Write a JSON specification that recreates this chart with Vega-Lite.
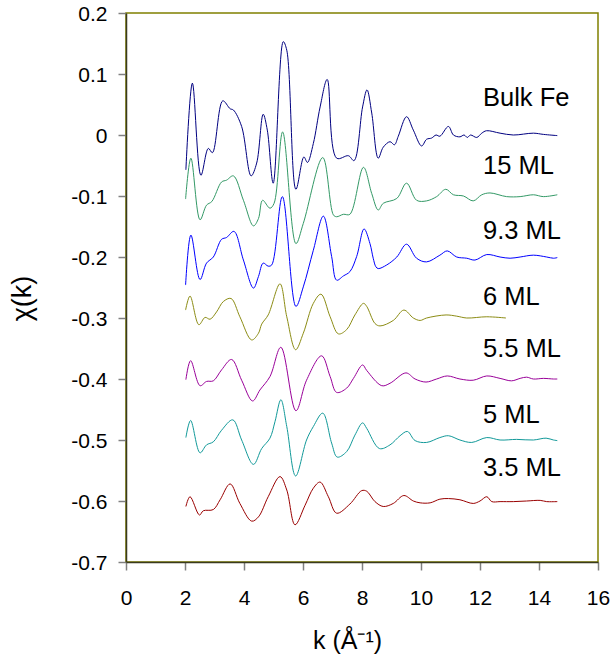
{
"$schema": "https://vega.github.io/schema/vega-lite/v6.json",
"width": 472, "height": 549, "autosize": "none",
"padding": {"left": 126, "top": 13, "right": 13, "bottom": 96},
"background": "white",
"config": {"view": {"stroke": "#808000", "strokeWidth": 1.5}, "font": "Liberation Sans"},
"datasets": {
"curves": [
{"series":"Bulk Fe","k":2.03,"chi":-0.057},{"series":"Bulk Fe","k":2.25,"chi":0.085},{"series":"Bulk Fe","k":2.54,"chi":-0.066},{"series":"Bulk Fe","k":2.79,"chi":-0.022},{"series":"Bulk Fe","k":2.93,"chi":-0.029},{"series":"Bulk Fe","k":3.28,"chi":0.056},{"series":"Bulk Fe","k":3.53,"chi":0.043},{"series":"Bulk Fe","k":3.64,"chi":0.041},{"series":"Bulk Fe","k":3.92,"chi":0.014},{"series":"Bulk Fe","k":4.24,"chi":-0.067},{"series":"Bulk Fe","k":4.43,"chi":-0.046},{"series":"Bulk Fe","k":4.65,"chi":0.034},{"series":"Bulk Fe","k":4.79,"chi":0.008},{"series":"Bulk Fe","k":4.99,"chi":-0.079},{"series":"Bulk Fe","k":5.33,"chi":0.153},{"series":"Bulk Fe","k":5.45,"chi":0.139},{"series":"Bulk Fe","k":5.76,"chi":-0.089},{"series":"Bulk Fe","k":6.03,"chi":-0.036},{"series":"Bulk Fe","k":6.15,"chi":-0.045},{"series":"Bulk Fe","k":6.35,"chi":-0.014},{"series":"Bulk Fe","k":6.58,"chi":0.046},{"series":"Bulk Fe","k":6.82,"chi":0.091},{"series":"Bulk Fe","k":7.14,"chi":-0.038},{"series":"Bulk Fe","k":7.54,"chi":-0.034},{"series":"Bulk Fe","k":7.73,"chi":-0.042},{"series":"Bulk Fe","k":8.02,"chi":0.046},{"series":"Bulk Fe","k":8.17,"chi":0.074},{"series":"Bulk Fe","k":8.33,"chi":0.036},{"series":"Bulk Fe","k":8.55,"chi":-0.038},{"series":"Bulk Fe","k":8.72,"chi":-0.020},{"series":"Bulk Fe","k":8.95,"chi":-0.011},{"series":"Bulk Fe","k":9.10,"chi":-0.016},{"series":"Bulk Fe","k":9.23,"chi":-0.002},{"series":"Bulk Fe","k":9.51,"chi":0.030},{"series":"Bulk Fe","k":9.74,"chi":0.008},{"series":"Bulk Fe","k":10.02,"chi":-0.018},{"series":"Bulk Fe","k":10.19,"chi":-0.007},{"series":"Bulk Fe","k":10.36,"chi":-0.005},{"series":"Bulk Fe","k":10.51,"chi":0.000},{"series":"Bulk Fe","k":10.64,"chi":-0.002},{"series":"Bulk Fe","k":10.93,"chi":0.014},{"series":"Bulk Fe","k":11.10,"chi":0.000},{"series":"Bulk Fe","k":11.32,"chi":-0.003},{"series":"Bulk Fe","k":11.46,"chi":0.000},{"series":"Bulk Fe","k":11.57,"chi":-0.004},{"series":"Bulk Fe","k":11.68,"chi":0.000},{"series":"Bulk Fe","k":11.89,"chi":-0.004},{"series":"Bulk Fe","k":12.06,"chi":0.003},{"series":"Bulk Fe","k":12.22,"chi":0.007},{"series":"Bulk Fe","k":12.68,"chi":0.003},{"series":"Bulk Fe","k":13.13,"chi":0.000},{"series":"Bulk Fe","k":13.81,"chi":0.003},{"series":"Bulk Fe","k":14.15,"chi":0.001},{"series":"Bulk Fe","k":14.62,"chi":-0.001},
{"series":"15 ML","k":2.02,"chi":-0.105},{"series":"15 ML","k":2.20,"chi":-0.038},{"series":"15 ML","k":2.51,"chi":-0.139},{"series":"15 ML","k":2.73,"chi":-0.115},{"series":"15 ML","k":2.91,"chi":-0.109},{"series":"15 ML","k":3.24,"chi":-0.077},{"series":"15 ML","k":3.41,"chi":-0.074},{"series":"15 ML","k":3.64,"chi":-0.067},{"series":"15 ML","k":3.98,"chi":-0.107},{"series":"15 ML","k":4.32,"chi":-0.149},{"series":"15 ML","k":4.49,"chi":-0.137},{"series":"15 ML","k":4.63,"chi":-0.107},{"series":"15 ML","k":4.88,"chi":-0.120},{"series":"15 ML","k":5.02,"chi":-0.112},{"series":"15 ML","k":5.31,"chi":0.005},{"series":"15 ML","k":5.76,"chi":-0.178},{"series":"15 ML","k":6.01,"chi":-0.145},{"series":"15 ML","k":6.67,"chi":-0.037},{"series":"15 ML","k":7.03,"chi":-0.131},{"series":"15 ML","k":7.14,"chi":-0.134},{"series":"15 ML","k":7.37,"chi":-0.130},{"series":"15 ML","k":7.59,"chi":-0.130},{"series":"15 ML","k":8.05,"chi":-0.053},{"series":"15 ML","k":8.33,"chi":-0.096},{"series":"15 ML","k":8.55,"chi":-0.123},{"series":"15 ML","k":8.72,"chi":-0.112},{"series":"15 ML","k":9.18,"chi":-0.104},{"series":"15 ML","k":9.51,"chi":-0.079},{"series":"15 ML","k":9.85,"chi":-0.107},{"series":"15 ML","k":10.19,"chi":-0.108},{"series":"15 ML","k":10.53,"chi":-0.101},{"series":"15 ML","k":10.84,"chi":-0.089},{"series":"15 ML","k":11.10,"chi":-0.098},{"series":"15 ML","k":11.44,"chi":-0.100},{"series":"15 ML","k":11.77,"chi":-0.108},{"series":"15 ML","k":12.06,"chi":-0.098},{"series":"15 ML","k":12.34,"chi":-0.095},{"series":"15 ML","k":12.90,"chi":-0.101},{"series":"15 ML","k":13.36,"chi":-0.101},{"series":"15 ML","k":13.81,"chi":-0.098},{"series":"15 ML","k":14.15,"chi":-0.101},{"series":"15 ML","k":14.62,"chi":-0.098},
{"series":"9.3 ML","k":2.02,"chi":-0.246},{"series":"9.3 ML","k":2.20,"chi":-0.164},{"series":"9.3 ML","k":2.51,"chi":-0.237},{"series":"9.3 ML","k":2.73,"chi":-0.210},{"series":"9.3 ML","k":2.96,"chi":-0.200},{"series":"9.3 ML","k":3.24,"chi":-0.171},{"series":"9.3 ML","k":3.41,"chi":-0.168},{"series":"9.3 ML","k":3.66,"chi":-0.158},{"series":"9.3 ML","k":3.98,"chi":-0.205},{"series":"9.3 ML","k":4.32,"chi":-0.251},{"series":"9.3 ML","k":4.49,"chi":-0.232},{"series":"9.3 ML","k":4.65,"chi":-0.210},{"series":"9.3 ML","k":4.82,"chi":-0.215},{"series":"9.3 ML","k":4.94,"chi":-0.213},{"series":"9.3 ML","k":5.30,"chi":-0.101},{"series":"9.3 ML","k":5.76,"chi":-0.281},{"series":"9.3 ML","k":6.01,"chi":-0.249},{"series":"9.3 ML","k":6.35,"chi":-0.189},{"series":"9.3 ML","k":6.69,"chi":-0.133},{"series":"9.3 ML","k":6.97,"chi":-0.199},{"series":"9.3 ML","k":7.14,"chi":-0.238},{"series":"9.3 ML","k":7.37,"chi":-0.231},{"series":"9.3 ML","k":7.59,"chi":-0.224},{"series":"9.3 ML","k":7.82,"chi":-0.199},{"series":"9.3 ML","k":8.07,"chi":-0.154},{"series":"9.3 ML","k":8.27,"chi":-0.178},{"series":"9.3 ML","k":8.38,"chi":-0.202},{"series":"9.3 ML","k":8.47,"chi":-0.216},{"series":"9.3 ML","k":8.55,"chi":-0.219},{"series":"9.3 ML","k":8.84,"chi":-0.213},{"series":"9.3 ML","k":9.18,"chi":-0.200},{"series":"9.3 ML","k":9.51,"chi":-0.179},{"series":"9.3 ML","k":9.85,"chi":-0.202},{"series":"9.3 ML","k":10.19,"chi":-0.208},{"series":"9.3 ML","k":10.64,"chi":-0.197},{"series":"9.3 ML","k":10.89,"chi":-0.190},{"series":"9.3 ML","k":11.21,"chi":-0.200},{"series":"9.3 ML","k":11.55,"chi":-0.202},{"series":"9.3 ML","k":11.83,"chi":-0.205},{"series":"9.3 ML","k":12.23,"chi":-0.196},{"series":"9.3 ML","k":12.68,"chi":-0.200},{"series":"9.3 ML","k":13.02,"chi":-0.202},{"series":"9.3 ML","k":13.36,"chi":-0.200},{"series":"9.3 ML","k":13.81,"chi":-0.197},{"series":"9.3 ML","k":14.26,"chi":-0.200},{"series":"9.3 ML","k":14.49,"chi":-0.202},{"series":"9.3 ML","k":14.62,"chi":-0.201},
{"series":"6 ML","k":2.02,"chi":-0.287},{"series":"6 ML","k":2.17,"chi":-0.264},{"series":"6 ML","k":2.47,"chi":-0.311},{"series":"6 ML","k":2.68,"chi":-0.299},{"series":"6 ML","k":2.85,"chi":-0.302},{"series":"6 ML","k":3.07,"chi":-0.290},{"series":"6 ML","k":3.30,"chi":-0.273},{"series":"6 ML","k":3.56,"chi":-0.268},{"series":"6 ML","k":3.86,"chi":-0.298},{"series":"6 ML","k":4.26,"chi":-0.336},{"series":"6 ML","k":4.49,"chi":-0.325},{"series":"6 ML","k":4.60,"chi":-0.310},{"series":"6 ML","k":4.82,"chi":-0.295},{"series":"6 ML","k":5.22,"chi":-0.244},{"series":"6 ML","k":5.45,"chi":-0.298},{"series":"6 ML","k":5.75,"chi":-0.352},{"series":"6 ML","k":6.01,"chi":-0.325},{"series":"6 ML","k":6.35,"chi":-0.276},{"series":"6 ML","k":6.61,"chi":-0.261},{"series":"6 ML","k":6.92,"chi":-0.298},{"series":"6 ML","k":7.20,"chi":-0.326},{"series":"6 ML","k":7.48,"chi":-0.319},{"series":"6 ML","k":7.76,"chi":-0.295},{"series":"6 ML","k":8.05,"chi":-0.276},{"series":"6 ML","k":8.16,"chi":-0.281},{"series":"6 ML","k":8.44,"chi":-0.309},{"series":"6 ML","k":8.61,"chi":-0.313},{"series":"6 ML","k":9.06,"chi":-0.304},{"series":"6 ML","k":9.42,"chi":-0.287},{"series":"6 ML","k":9.74,"chi":-0.300},{"series":"6 ML","k":9.97,"chi":-0.304},{"series":"6 ML","k":10.19,"chi":-0.300},{"series":"6 ML","k":10.85,"chi":-0.295},{"series":"6 ML","k":11.21,"chi":-0.297},{"series":"6 ML","k":11.55,"chi":-0.300},{"series":"6 ML","k":12.23,"chi":-0.298},{"series":"6 ML","k":12.88,"chi":-0.300},
{"series":"5.5 ML","k":2.03,"chi":-0.401},{"series":"5.5 ML","k":2.19,"chi":-0.370},{"series":"5.5 ML","k":2.51,"chi":-0.411},{"series":"5.5 ML","k":2.73,"chi":-0.404},{"series":"5.5 ML","k":2.96,"chi":-0.403},{"series":"5.5 ML","k":3.24,"chi":-0.385},{"series":"5.5 ML","k":3.58,"chi":-0.368},{"series":"5.5 ML","k":3.92,"chi":-0.402},{"series":"5.5 ML","k":4.29,"chi":-0.436},{"series":"5.5 ML","k":4.54,"chi":-0.418},{"series":"5.5 ML","k":4.88,"chi":-0.396},{"series":"5.5 ML","k":5.25,"chi":-0.348},{"series":"5.5 ML","k":5.76,"chi":-0.452},{"series":"5.5 ML","k":6.12,"chi":-0.402},{"series":"5.5 ML","k":6.63,"chi":-0.362},{"series":"5.5 ML","k":6.92,"chi":-0.396},{"series":"5.5 ML","k":7.14,"chi":-0.422},{"series":"5.5 ML","k":7.48,"chi":-0.415},{"series":"5.5 ML","k":7.71,"chi":-0.399},{"series":"5.5 ML","k":8.02,"chi":-0.377},{"series":"5.5 ML","k":8.16,"chi":-0.386},{"series":"5.5 ML","k":8.67,"chi":-0.411},{"series":"5.5 ML","k":8.95,"chi":-0.407},{"series":"5.5 ML","k":9.49,"chi":-0.390},{"series":"5.5 ML","k":9.80,"chi":-0.400},{"series":"5.5 ML","k":10.17,"chi":-0.405},{"series":"5.5 ML","k":10.53,"chi":-0.400},{"series":"5.5 ML","k":10.89,"chi":-0.395},{"series":"5.5 ML","k":11.32,"chi":-0.400},{"series":"5.5 ML","k":11.77,"chi":-0.402},{"series":"5.5 ML","k":12.23,"chi":-0.395},{"series":"5.5 ML","k":12.68,"chi":-0.399},{"series":"5.5 ML","k":13.07,"chi":-0.403},{"series":"5.5 ML","k":13.36,"chi":-0.399},{"series":"5.5 ML","k":13.58,"chi":-0.397},{"series":"5.5 ML","k":13.81,"chi":-0.400},{"series":"5.5 ML","k":14.15,"chi":-0.399},{"series":"5.5 ML","k":14.49,"chi":-0.400},{"series":"5.5 ML","k":14.62,"chi":-0.400},
{"series":"5 ML","k":2.03,"chi":-0.496},{"series":"5 ML","k":2.19,"chi":-0.468},{"series":"5 ML","k":2.51,"chi":-0.521},{"series":"5 ML","k":2.73,"chi":-0.508},{"series":"5 ML","k":2.96,"chi":-0.503},{"series":"5 ML","k":3.24,"chi":-0.484},{"series":"5 ML","k":3.62,"chi":-0.467},{"series":"5 ML","k":3.92,"chi":-0.500},{"series":"5 ML","k":4.32,"chi":-0.540},{"series":"5 ML","k":4.60,"chi":-0.514},{"series":"5 ML","k":4.88,"chi":-0.497},{"series":"5 ML","k":5.05,"chi":-0.470},{"series":"5 ML","k":5.25,"chi":-0.434},{"series":"5 ML","k":5.45,"chi":-0.478},{"series":"5 ML","k":5.75,"chi":-0.559},{"series":"5 ML","k":6.12,"chi":-0.500},{"series":"5 ML","k":6.35,"chi":-0.478},{"series":"5 ML","k":6.67,"chi":-0.456},{"series":"5 ML","k":6.97,"chi":-0.505},{"series":"5 ML","k":7.16,"chi":-0.528},{"series":"5 ML","k":7.48,"chi":-0.519},{"series":"5 ML","k":7.76,"chi":-0.492},{"series":"5 ML","k":8.02,"chi":-0.472},{"series":"5 ML","k":8.16,"chi":-0.481},{"series":"5 ML","k":8.59,"chi":-0.514},{"series":"5 ML","k":8.95,"chi":-0.508},{"series":"5 ML","k":9.29,"chi":-0.493},{"series":"5 ML","k":9.54,"chi":-0.486},{"series":"5 ML","k":9.80,"chi":-0.501},{"series":"5 ML","k":10.19,"chi":-0.504},{"series":"5 ML","k":10.64,"chi":-0.496},{"series":"5 ML","k":10.93,"chi":-0.493},{"series":"5 ML","k":11.32,"chi":-0.500},{"series":"5 ML","k":11.72,"chi":-0.504},{"series":"5 ML","k":12.23,"chi":-0.496},{"series":"5 ML","k":12.68,"chi":-0.500},{"series":"5 ML","k":13.24,"chi":-0.499},{"series":"5 ML","k":13.81,"chi":-0.500},{"series":"5 ML","k":14.24,"chi":-0.497},{"series":"5 ML","k":14.49,"chi":-0.500},{"series":"5 ML","k":14.62,"chi":-0.501},
{"series":"3.5 ML","k":2.03,"chi":-0.609},{"series":"3.5 ML","k":2.17,"chi":-0.593},{"series":"3.5 ML","k":2.49,"chi":-0.623},{"series":"3.5 ML","k":2.62,"chi":-0.616},{"series":"3.5 ML","k":2.96,"chi":-0.614},{"series":"3.5 ML","k":3.19,"chi":-0.598},{"series":"3.5 ML","k":3.53,"chi":-0.572},{"series":"3.5 ML","k":3.86,"chi":-0.604},{"series":"3.5 ML","k":4.26,"chi":-0.633},{"series":"3.5 ML","k":4.49,"chi":-0.626},{"series":"3.5 ML","k":4.82,"chi":-0.593},{"series":"3.5 ML","k":5.22,"chi":-0.560},{"series":"3.5 ML","k":5.45,"chi":-0.582},{"series":"3.5 ML","k":5.73,"chi":-0.639},{"series":"3.5 ML","k":6.07,"chi":-0.607},{"series":"3.5 ML","k":6.35,"chi":-0.579},{"series":"3.5 ML","k":6.58,"chi":-0.569},{"series":"3.5 ML","k":6.86,"chi":-0.593},{"series":"3.5 ML","k":7.14,"chi":-0.620},{"series":"3.5 ML","k":7.59,"chi":-0.605},{"series":"3.5 ML","k":7.99,"chi":-0.583},{"series":"3.5 ML","k":8.16,"chi":-0.584},{"series":"3.5 ML","k":8.44,"chi":-0.601},{"series":"3.5 ML","k":8.72,"chi":-0.609},{"series":"3.5 ML","k":9.06,"chi":-0.604},{"series":"3.5 ML","k":9.42,"chi":-0.591},{"series":"3.5 ML","k":9.74,"chi":-0.600},{"series":"3.5 ML","k":9.97,"chi":-0.603},{"series":"3.5 ML","k":10.31,"chi":-0.603},{"series":"3.5 ML","k":10.64,"chi":-0.597},{"series":"3.5 ML","k":10.93,"chi":-0.596},{"series":"3.5 ML","k":11.32,"chi":-0.598},{"series":"3.5 ML","k":11.77,"chi":-0.604},{"series":"3.5 ML","k":12.0,"chi":-0.600},{"series":"3.5 ML","k":12.23,"chi":-0.593},{"series":"3.5 ML","k":12.40,"chi":-0.601},{"series":"3.5 ML","k":12.68,"chi":-0.601},{"series":"3.5 ML","k":13.13,"chi":-0.601},{"series":"3.5 ML","k":13.58,"chi":-0.600},{"series":"3.5 ML","k":14.04,"chi":-0.599},{"series":"3.5 ML","k":14.26,"chi":-0.601},{"series":"3.5 ML","k":14.62,"chi":-0.601}
],
"labels": [
{"label":"Bulk Fe","k":12.1,"chi":0.060},
{"label":"15 ML","k":12.1,"chi":-0.0505},
{"label":"9.3 ML","k":12.1,"chi":-0.1566},
{"label":"6 ML","k":12.1,"chi":-0.265},
{"label":"5.5 ML","k":12.1,"chi":-0.351},
{"label":"5 ML","k":12.1,"chi":-0.4595},
{"label":"3.5 ML","k":12.1,"chi":-0.5465}
]
},
"layer": [
{
"data": {"name": "curves"},
"mark": {"type": "line", "strokeWidth": 1, "interpolate": "catmull-rom"},
"encoding": {
"x": {"field": "k", "type": "quantitative",
 "scale": {"domain": [0, 16], "nice": false, "zero": false},
 "axis": {"values": [0,2,4,6,8,10,12,14,16], "title": "k (Å⁻¹)", "grid": false,
  "domainColor": "#3a3a1e", "domainWidth": 1.5, "tickColor": "#808080", "tickSize": 8, "tickWidth": 1.5,
  "labelFontSize": 21, "labelColor": "black", "labelPadding": 17, "labelFlush": false, "labelFont": "Liberation Sans",
  "titleFontSize": 25, "titleFontWeight": "normal", "titleColor": "black", "titleFont": "Liberation Sans",
  "titleX": 221, "titleY": 78, "titleBaseline": "middle", "titleAlign": "center"}},
"y": {"field": "chi", "type": "quantitative",
 "scale": {"domain": [-0.7, 0.2], "nice": false, "zero": false},
 "axis": {"values": [-0.7,-0.6,-0.5,-0.4,-0.3,-0.2,-0.1,0,0.1,0.2], "title": "χ(k)", "grid": false,
  "labelExpr": "datum.value == 0 ? '0' : toString(round(datum.value*10)/10)",
  "domainColor": "#3a3a1e", "domainWidth": 1.5, "tickColor": "#808080", "tickSize": 8, "tickWidth": 1.5,
  "labelFontSize": 21, "labelColor": "black", "labelPadding": 11, "labelOffset": 1, "labelFlush": false, "labelFont": "Liberation Sans",
  "titleFontSize": 27, "titleFontWeight": "normal", "titleColor": "black", "titleFont": "Liberation Sans",
  "titleAngle": -90, "titleX": -104, "titleY": 285, "titleBaseline": "middle", "titleAlign": "center"}},
"color": {"field": "series", "type": "nominal",
 "scale": {"domain": ["Bulk Fe","15 ML","9.3 ML","6 ML","5.5 ML","5 ML","3.5 ML"],
  "range": ["#000080","#339966","#0000ff","#8c8c14","#990099","#119999","#990000"]},
 "legend": null}
}
},
{
"data": {"name": "labels"},
"mark": {"type": "text", "align": "left", "baseline": "middle", "fontSize": 25.5, "font": "Liberation Sans", "color": "black"},
"encoding": {
"x": {"field": "k", "type": "quantitative"},
"y": {"field": "chi", "type": "quantitative"},
"text": {"field": "label", "type": "nominal"}
}
}
]
}
